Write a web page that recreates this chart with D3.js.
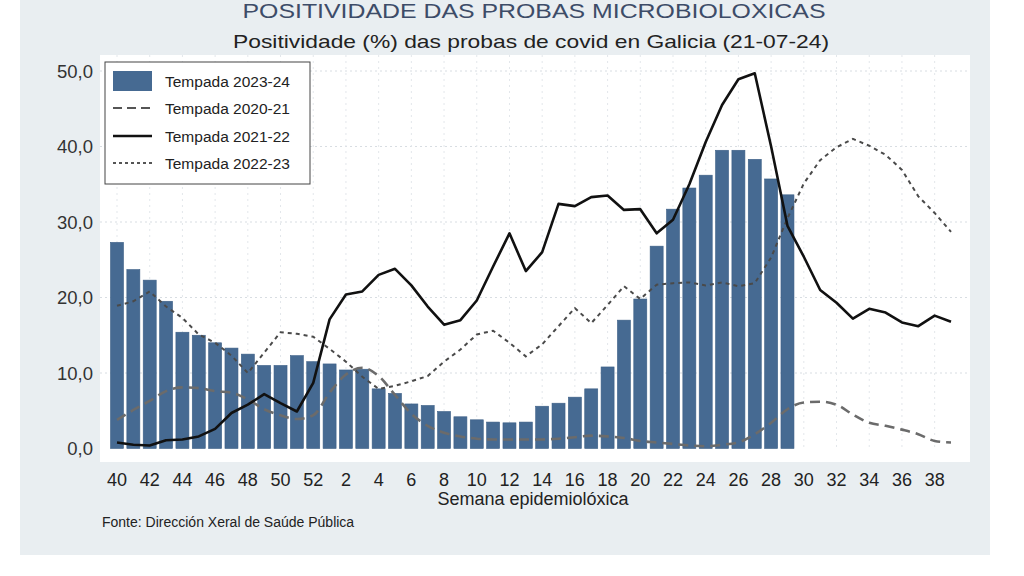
<!DOCTYPE html>
<html>
<head>
<meta charset="utf-8">
<script src="https://cdn.jsdelivr.net/npm/d3@7"></script>
<style>
html,body{margin:0;padding:0;background:#ffffff;}
svg{display:block;font-family:"Liberation Sans",Arial,sans-serif;}
</style>
</head>
<body>
<svg id="chart" width="1024" height="576"></svg>
<script>
const weeks = [40,41,42,43,44,45,46,47,48,49,50,51,52,1,2,3,4,5,6,7,8,9,10,11,12,13,14,15,16,17,18,19,20,21,22,23,24,25,26,27,28,29,30,31,32,33,34,35,36,37,38,39];
const tickWeeks = [40,42,44,46,48,50,52,2,4,6,8,10,12,14,16,18,20,22,24,26,28,30,32,34,36,38];
const yTicks = [0,10,20,30,40,50];

// Tempada 2023-24 (bars, w40 .. w29)
const s2324 = [27.3,23.7,22.3,19.5,15.4,15.0,14.0,13.3,12.5,11.0,11.0,12.3,11.5,11.2,10.4,10.5,7.9,7.3,5.9,5.7,4.9,4.2,3.8,3.5,3.4,3.5,5.6,6.0,6.8,7.9,10.8,17.0,19.8,26.8,31.7,34.5,36.2,39.5,39.5,38.3,35.7,33.6];
// Tempada 2020-21 (long dashes)
const s2021 = [3.8,5.1,6.3,7.6,8.1,8.0,7.6,7.4,6.5,5.2,4.4,3.9,4.4,7.4,9.8,10.7,9.6,7.1,4.6,3.0,2.1,1.6,1.3,1.2,1.2,1.2,1.2,1.3,1.5,1.7,1.6,1.4,1.0,0.8,0.6,0.4,0.3,0.5,0.8,1.9,3.4,5.2,6.1,6.2,5.8,4.5,3.4,3.0,2.5,1.9,1.0,0.8];
// Tempada 2021-22 (solid)
const s2122 = [0.8,0.5,0.4,1.1,1.2,1.6,2.6,4.7,5.8,7.2,6.0,4.9,8.7,17.1,20.4,20.8,23.0,23.8,21.6,18.8,16.4,17.0,19.6,24.1,28.5,23.5,26.0,32.4,32.1,33.3,33.5,31.6,31.7,28.5,30.3,35.0,40.6,45.5,48.9,49.7,40.0,29.5,25.4,21.0,19.3,17.2,18.5,18.0,16.7,16.2,17.6,16.8];
// Tempada 2022-23 (short dashes)
const s2223 = [18.9,19.5,20.8,18.8,17.3,15.1,14.0,12.3,10.0,12.7,15.4,15.2,14.8,13.2,11.5,9.5,7.9,8.3,8.9,9.6,11.5,13.1,15.1,15.6,14.0,12.2,13.8,16.2,18.6,16.6,19.0,21.5,19.8,21.7,21.9,22.0,21.6,22.0,21.5,21.9,25.3,30.5,35.1,38.2,39.9,41.0,40.1,38.9,36.9,33.4,31.2,28.7];

const legendLabels = ["Tempada 2023-24","Tempada 2020-21","Tempada 2021-22","Tempada 2022-23"];

const svg = d3.select("#chart");

// panel background
svg.append("rect").attr("x",20).attr("y",0).attr("width",970).attr("height",555).attr("fill","#e9eef1");
// plot area
const plot = {left:100, right:970, top:55, bottom:462};
svg.append("rect").attr("x",plot.left).attr("y",plot.top).attr("width",plot.right-plot.left).attr("height",plot.bottom-plot.top).attr("fill","#ffffff");

const x = d3.scalePoint().domain(weeks).range([117,951]);
const y = d3.scaleLinear().domain([0,50]).range([448.5,71]);

// grid
const gGrid = svg.append("g");
gGrid.selectAll("line.h").data(yTicks.filter(d=>d>0)).join("line")
  .attr("x1",plot.left).attr("x2",plot.right)
  .attr("y1",d=>y(d)).attr("y2",d=>y(d))
  .attr("stroke","#d8dde2").attr("stroke-width",1).attr("stroke-dasharray","2,3");
gGrid.selectAll("line.v").data(tickWeeks).join("line")
  .attr("x1",d=>x(d)).attr("x2",d=>x(d))
  .attr("y1",plot.top).attr("y2",448.5)
  .attr("stroke","#e3e7eb").attr("stroke-width",1).attr("stroke-dasharray","2,4");

// bars
const barW = 13;
svg.append("g").selectAll("rect").data(s2324.map((v,i)=>({w:weeks[i],v})))
  .join("rect")
  .attr("x",d=>x(d.w)-barW/2).attr("width",barW)
  .attr("y",d=>y(d.v)).attr("height",d=>y(0)-y(d.v))
  .attr("fill","#466a92").attr("stroke","#3c5f86").attr("stroke-width",0.6);

const line = d3.line().x((d,i)=>x(weeks[i])).y(d=>y(d));

svg.append("path").datum(s2021).attr("d",line.curve(d3.curveMonotoneX))
  .attr("fill","none").attr("stroke","#6b6b6b").attr("stroke-width",2.6).attr("stroke-dasharray","10,6");
svg.append("path").datum(s2223).attr("d",line.curve(d3.curveLinear))
  .attr("fill","none").attr("stroke","#4a4a4a").attr("stroke-width",2).attr("stroke-dasharray","4,4");
svg.append("path").datum(s2122).attr("d",line.curve(d3.curveLinear))
  .attr("fill","none").attr("stroke","#111111").attr("stroke-width",2.6).attr("stroke-linejoin","round");

// y axis labels
svg.append("g").selectAll("text").data(yTicks).join("text")
  .attr("x",93).attr("y",d=>y(d)+6.5).attr("text-anchor","end")
  .attr("font-size",18.5).attr("fill","#333")
  .text(d=>d3.format(".1f")(d).replace(".",","));

// x axis labels
svg.append("g").selectAll("text").data(tickWeeks).join("text")
  .attr("x",d=>x(d)).attr("y",486).attr("text-anchor","middle")
  .attr("font-size",18).attr("fill","#222")
  .text(d=>d);

svg.append("text").attr("x",533).attr("y",505).attr("text-anchor","middle")
  .attr("font-size",18).attr("fill","#222").text("Semana epidemiolóxica");

svg.append("text").attr("x",102).attr("y",527)
  .attr("font-size",14).attr("fill","#222").text("Fonte: Dirección Xeral de Saúde Pública");

// titles
svg.append("text").attr("x",534).attr("y",18).attr("text-anchor","middle")
  .attr("font-size",20).attr("fill","#3d4c68")
  .attr("textLength",583).attr("lengthAdjust","spacingAndGlyphs")
  .text("POSITIVIDADE DAS PROBAS MICROBIOLOXICAS");
svg.append("text").attr("x",531).attr("y",48).attr("text-anchor","middle")
  .attr("font-size",19).attr("fill","#222")
  .attr("textLength",596).attr("lengthAdjust","spacingAndGlyphs")
  .text("Positividade (%) das probas de covid en Galicia (21-07-24)");

// legend
const lg = svg.append("g");
lg.append("rect").attr("x",105).attr("y",62).attr("width",205).attr("height",122)
  .attr("fill","#ffffff").attr("stroke","#444").attr("stroke-width",1);
const rowsY = [81,108,136,163];
lg.append("rect").attr("x",113).attr("y",71).attr("width",39).attr("height",20).attr("fill","#466a92");
const legStyles = [null,{c:"#555",w:2.2,d:"9,5"},{c:"#111",w:2.6,d:null},{c:"#555",w:1.8,d:"3,3"}];
legStyles.forEach((s,i)=>{
  if(!s) return;
  const l = lg.append("line").attr("x1",113).attr("x2",152).attr("y1",rowsY[i]).attr("y2",rowsY[i])
    .attr("stroke",s.c).attr("stroke-width",s.w);
  if(s.d) l.attr("stroke-dasharray",s.d);
});
lg.selectAll("text").data(legendLabels).join("text")
  .attr("x",165).attr("y",(d,i)=>rowsY[i]+5.5)
  .attr("font-size",15.5).attr("fill","#222").text(d=>d);
</script>
</body>
</html>
